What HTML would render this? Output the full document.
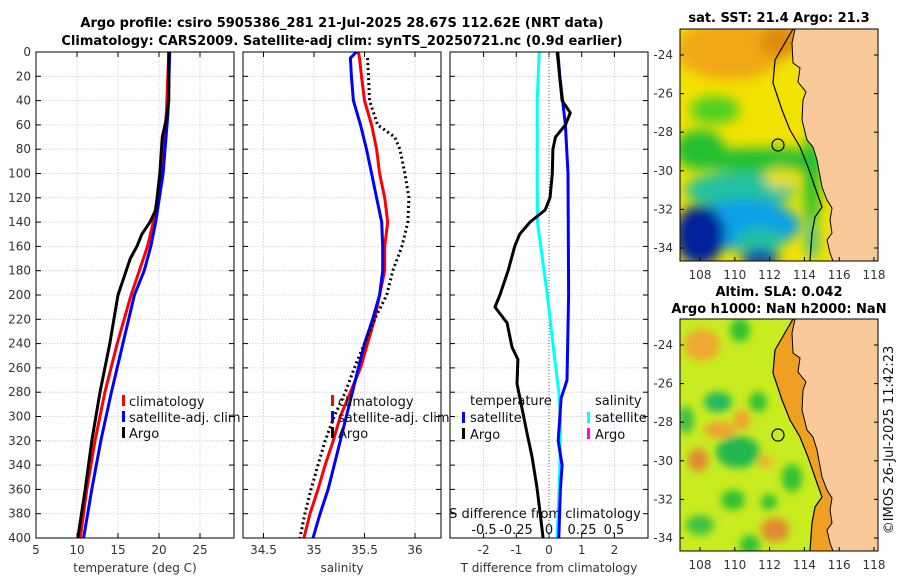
<!DOCTYPE html>
<html><head><meta charset="utf-8"><style>
body{margin:0;background:#fff;}
svg{display:block;font-family:"DejaVu Sans","Liberation Sans",sans-serif;}
.tk{font-size:12px;fill:#333;}
.lg{font-size:13px;fill:#111;}
.tt{font-size:13px;font-weight:bold;fill:#000;}
</style></head><body>
<svg id="c" width="900" height="580" viewBox="0 0 900 580">
<defs>
<filter id="bl" x="-20%" y="-20%" width="140%" height="140%"><feGaussianBlur stdDeviation="6"/></filter>
<filter id="bl2" x="-20%" y="-20%" width="140%" height="140%"><feGaussianBlur stdDeviation="4"/></filter>
<clipPath id="m1"><rect x="680" y="29" width="198" height="232"/></clipPath>
<clipPath id="m2"><rect x="680" y="319" width="198" height="232"/></clipPath>
</defs>
<text class="tt" x="342" y="27" text-anchor="middle">Argo profile: csiro 5905386_281 21-Jul-2025 28.67S 112.62E (NRT data)</text>
<text class="tt" x="342" y="45" text-anchor="middle">Climatology: CARS2009. Satellite-adj clim: synTS_20250721.nc (0.9d earlier)</text>

<g id="p1"></g>
<g id="p2"></g>
<g id="p3"></g>

<g>
<rect x="122" y="395" width="3" height="11" fill="#f00"/><text class="lg" x="129" y="406">climatology</text>
<rect x="122" y="411" width="3" height="11" fill="#00f"/><text class="lg" x="129" y="422">satellite-adj. clim</text>
<rect x="122" y="427" width="3" height="11" fill="#000"/><text class="lg" x="129" y="438">Argo</text>
</g>
<g>
<rect x="331" y="395" width="3" height="11" fill="#f00"/><text class="lg" x="338" y="406">climatology</text>
<rect x="331" y="411" width="3" height="11" fill="#00f"/><text class="lg" x="338" y="422">satellite-adj. clim</text>
<rect x="331" y="427" width="3" height="11" fill="#000"/><text class="lg" x="338" y="438">Argo</text>
</g>
<g>
<text class="lg" x="470" y="405">temperature</text>
<rect x="462" y="412" width="3" height="11" fill="#00f"/><text class="lg" x="470" y="422">satellite</text>
<rect x="462" y="428" width="3" height="11" fill="#000"/><text class="lg" x="470" y="439">Argo</text>
<text class="lg" x="595" y="405">salinity</text>
<rect x="587" y="412" width="3" height="11" fill="#0ff"/><text class="lg" x="595" y="422">satellite</text>
<rect x="587" y="428" width="3" height="11" fill="#f0f"/><text class="lg" x="595" y="439">Argo</text>
</g>
<text class="lg" x="545" y="518" text-anchor="middle">S difference from climatology</text>
<g class="lg">
<text x="484" y="534" text-anchor="middle">-0.5</text><text x="516" y="534" text-anchor="middle">-0.25</text><text x="549" y="534" text-anchor="middle">0</text><text x="582" y="534" text-anchor="middle">0.25</text><text x="614" y="534" text-anchor="middle">0.5</text>
</g>

<text class="tt" x="779" y="22" text-anchor="middle">sat. SST: 21.4 Argo: 21.3</text>
<g clip-path="url(#m1)">
<rect x="680" y="29" width="198" height="232" fill="#f2e200"/>
<g filter="url(#bl)">
<ellipse cx="730" cy="50" rx="55" ry="30" fill="#f0a818"/>
<ellipse cx="780" cy="40" rx="20" ry="18" fill="#e08a10"/>
<ellipse cx="715" cy="110" rx="25" ry="14" fill="#50d020"/>
<ellipse cx="760" cy="160" rx="70" ry="12" fill="#20c030"/>
<ellipse cx="700" cy="150" rx="25" ry="20" fill="#20c030"/>
<ellipse cx="740" cy="190" rx="55" ry="18" fill="#20c0a0"/>
<ellipse cx="780" cy="178" rx="15" ry="10" fill="#e8e020"/>
<ellipse cx="745" cy="225" rx="55" ry="25" fill="#10a0e8"/>
<ellipse cx="760" cy="240" rx="25" ry="12" fill="#20c0a0"/>
<ellipse cx="700" cy="235" rx="25" ry="30" fill="#00209a"/>
<ellipse cx="760" cy="258" rx="20" ry="8" fill="#0030b0"/>
<ellipse cx="812" cy="180" rx="8" ry="50" fill="#20c030"/>
<ellipse cx="812" cy="240" rx="6" ry="20" fill="#30c0a0"/>
</g>
<path d="M795,29 L792,43 L793,63 L800,68 L798,82 L806,92 L803,100 L802,120 L807,140 L813,147 L817,160 L822,187 L827,200 L832,208 L830,220 L832,233 L827,240 L830,253 L833,261 L878,261 L878,29 Z" fill="#f9c99a"/>
<path d="M793,29 L775,60 L773,83 L782,110 L790,130 L800,147 L808,167 L817,193 L822,207 L815,217 L812,233 L810,261" fill="none" stroke="#000" stroke-width="1.2"/>
<path d="M795,29 L792,43 L793,63 L800,68 L798,82 L806,92 L803,100 L802,120 L807,140 L813,147 L817,160 L822,187 L827,200 L832,208 L830,220 L832,233 L827,240 L830,253 L833,261" fill="none" stroke="#000" stroke-width="1"/>
<circle cx="778" cy="145" r="6" fill="none" stroke="#000" stroke-width="1.2"/>
</g>

<text class="tt" x="779" y="296" text-anchor="middle">Altim. SLA: 0.042</text>
<text class="tt" x="779" y="313" text-anchor="middle">Argo h1000: NaN h2000: NaN</text>
<g clip-path="url(#m2)">
<rect x="680" y="319" width="198" height="232" fill="#c8ec20"/>
<g filter="url(#bl2)">
<ellipse cx="702" cy="345" rx="18" ry="16" fill="#f0a830"/>
<ellipse cx="740" cy="330" rx="10" ry="12" fill="#30c030"/>
<ellipse cx="718" cy="402" rx="14" ry="10" fill="#20b860"/>
<ellipse cx="758" cy="402" rx="9" ry="10" fill="#30c030"/>
<ellipse cx="720" cy="430" rx="16" ry="8" fill="#f0a030"/>
<ellipse cx="742" cy="420" rx="8" ry="10" fill="#f0a030"/>
<ellipse cx="738" cy="452" rx="22" ry="16" fill="#20b850"/>
<ellipse cx="698" cy="460" rx="10" ry="12" fill="#e08a30"/>
<ellipse cx="765" cy="462" rx="8" ry="6" fill="#f0b030"/>
<ellipse cx="792" cy="478" rx="10" ry="14" fill="#30c030"/>
<ellipse cx="733" cy="500" rx="12" ry="10" fill="#30c030"/>
<ellipse cx="769" cy="502" rx="8" ry="8" fill="#30c030"/>
<ellipse cx="700" cy="525" rx="14" ry="10" fill="#40c040"/>
<ellipse cx="775" cy="530" rx="14" ry="12" fill="#e08a30"/>
<ellipse cx="750" cy="545" rx="10" ry="10" fill="#30c030"/>
<ellipse cx="686" cy="420" rx="8" ry="14" fill="#40c040"/>
</g>
<path d="M793,319 L775,350 L773,373 L782,400 L790,420 L800,437 L808,457 L817,483 L822,497 L815,507 L812,523 L810,551 L833,551 L830,543 L827,530 L832,523 L830,510 L832,498 L827,490 L822,477 L817,450 L813,437 L807,430 L802,410 L803,390 L806,382 L798,372 L800,358 L793,353 L792,333 L795,319 Z" fill="#f0a020"/>
<path d="M795,319 L792,333 L793,353 L800,358 L798,372 L806,382 L803,390 L802,410 L807,430 L813,437 L817,450 L822,477 L827,490 L832,498 L830,510 L832,523 L827,530 L830,543 L833,551 L878,551 L878,319 Z" fill="#f9c99a"/>
<path d="M793,319 L775,350 L773,373 L782,400 L790,420 L800,437 L808,457 L817,483 L822,497 L815,507 L812,523 L810,551" fill="none" stroke="#000" stroke-width="1.2"/>
<path d="M795,319 L792,333 L793,353 L800,358 L798,372 L806,382 L803,390 L802,410 L807,430 L813,437 L817,450 L822,477 L827,490 L832,498 L830,510 L832,523 L827,530 L830,543 L833,551" fill="none" stroke="#000" stroke-width="1"/>
<circle cx="778" cy="435" r="6" fill="none" stroke="#000" stroke-width="1.2"/>
</g>
<g id="maxes"></g>
<text class="lg" transform="translate(893,440) rotate(-90)" text-anchor="middle" font-size="13">©IMOS 26-Jul-2025 11:42:23</text>
</svg>
<script>
const depthsT = [0,50,100,140,160,180,200,240,280,320,360,400];
const tempClim = [21.2,20.9,20.3,19.3,18.6,17.6,16.6,14.9,13.4,12.2,11.2,10.4];
const tempSat = [21.3,21.1,20.5,19.6,19.0,18.2,17.0,15.6,14.2,12.9,11.8,10.8];
const depthsArgoT = [0,40,55,70,100,130,140,150,160,170,190,200,240,280,320,360,400];
const tempArgo = [21.2,21.2,20.9,20.4,20.1,19.6,18.9,17.9,17.3,16.5,15.5,15.0,14.0,12.8,11.8,11.0,10.1];
const depthsS = [0,5,20,40,60,80,100,120,140,160,180,200,220,240,260,280,300,320,340,360,380,400];
const salClim = [35.44,35.45,35.47,35.50,35.57,35.62,35.65,35.70,35.73,35.70,35.70,35.65,35.60,35.53,35.46,35.36,35.26,35.19,35.11,35.04,34.96,34.90];
const salSat = [35.42,35.36,35.37,35.39,35.46,35.52,35.57,35.62,35.67,35.68,35.68,35.65,35.58,35.50,35.44,35.38,35.32,35.26,35.20,35.14,35.06,34.99];
const depthsArgoS = [5,20,40,60,70,80,100,120,140,150,160,180,200,220,240,260,280,300,320,340,360,380,400];
const salArgo = [35.53,35.54,35.55,35.63,35.80,35.85,35.90,35.94,35.93,35.90,35.87,35.78,35.72,35.60,35.50,35.40,35.31,35.20,35.11,35.04,34.97,34.91,34.86];
const depthsD = [0,20,60,100,200,270,285,320,340,360,400];
const dTSat = [0.27,0.33,0.5,0.58,0.6,0.55,0.37,0.28,0.4,0.35,0.3];
const depthsDS = [0,40,100,140,160,200,240,280,300,340,400];
const dSSat = [-0.075,-0.09,-0.09,-0.088,-0.063,-0.013,0.03,0.075,0.088,0.083,0.063];
const depthsDA = [0,40,50,60,70,80,100,120,130,140,150,160,180,200,210,223,243,253,273,314,333,358,380,400];
const dTArgo = [0.25,0.4,0.65,0.5,0.2,0.12,0.1,0.03,-0.12,-0.58,-0.9,-1.05,-1.25,-1.5,-1.65,-1.28,-1.13,-0.95,-0.98,-0.67,-0.52,-0.37,-0.27,-0.18];
const depthTicks = [0,20,40,60,80,100,120,140,160,180,200,220,240,260,280,300,320,340,360,380,400];
const tTicks = [5,10,15,20,25];
const sTicks = [34.5,35,35.5,36];
const dTicks = [-2,-1,0,1,2];
const lonTicks = [108,110,112,114,116,118];
const latTicks = [-24,-26,-28,-30,-32,-34];

const NS='http://www.w3.org/2000/svg';
const svg=document.getElementById('c');
function mk(tag,attrs,parent){const e=document.createElementNS(NS,tag);for(const k in attrs)e.setAttribute(k,attrs[k]);(parent||svg).appendChild(e);return e;}
const Y0=52,Y1=538;
const yD=d=>Y0+(d/400)*(Y1-Y0);
const xT=v=>36+(v-5)*8.2;
const xS=v=>314+(v-35)*101;
const xD=v=>549+v*32.7;

function panel(g,x0,x1,ticks,xf,lbl,showDepth){
  const w=x1-x0;
  mk('rect',{x:x0,y:Y0,width:w,height:Y1-Y0,fill:'#fff'},g);
  depthTicks.forEach(d=>{
    const l=mk('line',{x1:x0,x2:x1,y1:yD(d),y2:yD(d),stroke:'#c4cae6','stroke-width':0.8,'stroke-dasharray':'1.5,1.5'},g);
    
    
    mk('line',{x1:x0,x2:x0+5,y1:yD(d),y2:yD(d),stroke:'#000'},g);
    mk('line',{x1:x1-5,x2:x1,y1:yD(d),y2:yD(d),stroke:'#000'},g);
    if(showDepth){const t=mk('text',{x:x0-5,y:yD(d)+4,'text-anchor':'end',class:'tk'},g);t.textContent=d;
      
      }
  });
  ticks.forEach(v=>{
    const x=xf(v);
    mk('line',{x1:x,x2:x,y1:Y0,y2:Y1,stroke:'#c4cae6','stroke-width':0.8,'stroke-dasharray':'1.5,1.5'},g);
    mk('line',{x1:x,x2:x,y1:Y1,y2:Y1-5,stroke:'#000'},g);
    mk('line',{x1:x,x2:x,y1:Y0,y2:Y0+5,stroke:'#000'},g);
    const t=mk('text',{x:x,y:554,'text-anchor':'middle',class:'tk'},g);t.textContent=v;
    
    
  });
  const t=mk('text',{x:(x0+x1)/2,y:572,'text-anchor':'middle',class:'tk','font-size':'13'},g);t.textContent=lbl;
  
  
}
function line(g,xs,ds,xf,color,name,dash){
  const pts=xs.map((v,i)=>xf(v).toFixed(1)+','+yD(ds[i]).toFixed(1)).join(' ');
  const p=mk('polyline',{points:pts,fill:'none',stroke:color,'stroke-width':3,'stroke-linejoin':'round'},g);
  if(dash)p.setAttribute('stroke-dasharray',dash);
  
  
}
function frame(g,x0,x1){mk('rect',{x:x0,y:Y0,width:x1-x0,height:Y1-Y0,fill:'none',stroke:'#000','stroke-width':1},g);}

const g1=document.getElementById('p1');
panel(g1,36,234,tTicks,xT,'temperature (deg C)',true);
line(g1,tempClim,depthsT,xT,'#f00','temp-climatology-line');
line(g1,tempSat,depthsT,xT,'#00f','temp-satellite-line');
line(g1,tempArgo,depthsArgoT,xT,'#000','temp-argo-line');
frame(g1,36,234);

const g2=document.getElementById('p2');
panel(g2,243,441,sTicks,xS,'salinity',false);
line(g2,salClim,depthsS,xS,'#f00','sal-climatology-line');
line(g2,salSat,depthsS,xS,'#00f','sal-satellite-line');
line(g2,salArgo,depthsArgoS,xS,'#000','sal-argo-line','2,3');
frame(g2,243,441);

const g3=document.getElementById('p3');
panel(g3,450,648,dTicks,xD,'T difference from climatology',false);
const z=mk('line',{x1:xD(0),x2:xD(0),y1:Y0,y2:Y1,stroke:'#665',"stroke-width":1,'stroke-dasharray':'1,2'},g3);


line(g3,dSSat,depthsDS,v=>xD(v*4),'#0ff','sal-diff-satellite-line');
line(g3,dTSat,depthsD,xD,'#00f','temp-diff-satellite-line');
line(g3,dTArgo,depthsDA,xD,'#000','temp-diff-argo-line');
frame(g3,450,648);

const gm=document.getElementById('maxes');
const xLon=l=>700+(l-108)*17.4;
[[29,261,'sst'],[319,551,'sla']].forEach(([yt,yb,nm])=>{
  mk('rect',{x:680,y:yt,width:198,height:yb-yt,fill:'none',stroke:'#000','stroke-width':1},gm);
  const yLat=la=>yt+26+(-24-la)*19.3;
  lonTicks.forEach(l=>{
    mk('line',{x1:xLon(l),x2:xLon(l),y1:yb,y2:yb-4,stroke:'#000'},gm);
    const t=mk('text',{x:xLon(l),y:yb+18,'text-anchor':'middle',class:'tk'},gm);t.textContent=l;
    
    
  });
  latTicks.forEach(la=>{
    mk('line',{x1:680,x2:684,y1:yLat(la),y2:yLat(la),stroke:'#000'},gm);
    mk('line',{x1:874,x2:878,y1:yLat(la),y2:yLat(la),stroke:'#000'},gm);
    const t=mk('text',{x:673,y:yLat(la)+4,'text-anchor':'end',class:'tk'},gm);t.textContent=la;
    
    
  });
});
</script>
</body></html>
